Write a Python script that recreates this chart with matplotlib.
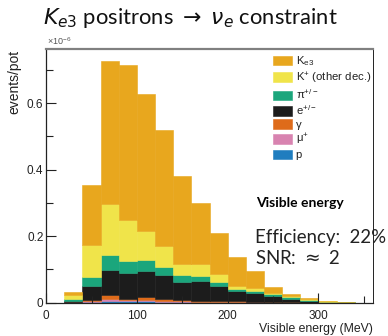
import numpy as np
import matplotlib
matplotlib.use("Agg")
from matplotlib import pyplot as plt
from matplotlib.ticker import MultipleLocator, FixedLocator, FixedFormatter

plt.rcParams['font.family'] = ['Liberation Sans', 'DejaVu Sans']
plt.rcParams['mathtext.fontset'] = 'custom'
plt.rcParams['mathtext.rm'] = 'Liberation Sans'
plt.rcParams['mathtext.it'] = 'Liberation Sans:italic'

# bins of visible energy (MeV), 20 MeV wide
edges = np.arange(0, 361, 20)

# contributions per bin, units of 1e-6 events/pot (stack order bottom -> top)
p_hits = [0, .001, .002, .005, .004, .005, .003, .002, .001, .001, .001, .0005, 0, 0, 0, 0, 0, 0]
mu_plus = [0, .001, .003, .005, .003, .004, .003, .002, .002, .001, .001, .001, .0005, 0, 0, 0, 0, 0]
gamma = [0, .001, .003, .013, .005, .009, .005, .005, .003, .004, .003, .002, .001, .001, 0, 0, 0, 0]
e_pm = [0, .003, .041, .075, .078, .076, .071, .052, .058, .043, .031, .0265, .0185, .009, .004, .001, .0005, 0]
pi_pm = [0, .004, .028, .046, .036, .034, .025, .022, .017, .012, .005, .006, .005, .006, .004, .002, .0015, 0]
k_other = [0, .013, .098, .154, .122, .087, .063, .035, .035, .024, .009, .009, .005, .004, .003, .001, 0, 0]
k_e3 = [0, .009, .178, .428, .467, .414, .350, .263, .183, .125, .088, .050, .018, .006, .002, .001, 0, 0]

series = [p_hits, mu_plus, gamma, e_pm, pi_pm, k_other, k_e3]
labels = ['p', '\u03bc$^{+}$', '\u03b3', 'e$^{+/-}$', '\u03c0$^{+/-}$',
          'K$^{+}$ (other dec.)', r'K$_{\mathrm{e3}}$']
colors = ['#1f7dbf', '#d883b0', '#de6b1a', '#1c1c1c', '#1ba67c', '#f0e44a', '#e8a71e']

fig = plt.figure(figsize=(3.88, 3.36), dpi=100)
ax = fig.add_axes([0.119, 0.099, 0.842, 0.754])

bottom = np.zeros(len(edges) - 1)
handles = []
for vals, lab, col in zip(series, labels, colors):
    vals = np.array(vals)
    b = ax.bar(edges[:-1], vals, width=20, bottom=bottom, align='edge',
               color=col, edgecolor=col, linewidth=0.4, label=lab)
    handles.append(b)
    bottom = bottom + vals

ax.set_xlim(0, 360)
ax.set_ylim(0, 0.762)

ax.xaxis.set_major_locator(MultipleLocator(100))
ax.xaxis.set_minor_locator(MultipleLocator(50))
ax.yaxis.set_major_locator(FixedLocator([0, 0.2, 0.4, 0.6]))
ax.yaxis.set_major_formatter(FixedFormatter(['0', '0.2', '0.4', '0.6']))
ax.yaxis.set_minor_locator(MultipleLocator(0.1))
ax.tick_params(which='both', direction='in', colors='#222222', labelsize=8.5,
               top=False, right=False)
ax.tick_params(which='major', length=7, width=0.8)
ax.tick_params(which='minor', length=5, width=0.8)
ax.tick_params(axis='x', pad=5)
ax.tick_params(axis='y', pad=2)

for s in ['left', 'bottom']:
    ax.spines[s].set_color('#222222')
    ax.spines[s].set_linewidth(0.9)
ax.spines['top'].set_color('#808080')
ax.spines['top'].set_linewidth(1.6)
ax.spines['right'].set_color('#222222')
ax.spines['right'].set_linewidth(0.7)

ax.set_xlabel('Visible energy (MeV)', fontsize=8.8, color='#222222', loc='right',
              labelpad=1)
fig.text(0.036, 0.851, 'events/pot', rotation=90, ha='center', va='top',
         fontsize=10, color='#222222')
fig.text(0.121, 0.878, r'$\times$10$^{-6}$', fontsize=6.5, color='#555555',
         ha='left', va='center')

leg = ax.legend(handles[::-1], labels[::-1], loc='upper left',
                bbox_to_anchor=(0.695, 0.98), frameon=False, fontsize=8.2,
                handlelength=1.67, handleheight=0.96, labelspacing=0.18,
                handletextpad=0.3, borderpad=0, borderaxespad=0)
for t in leg.get_texts():
    t.set_color('#222222')

ax.text(0.642, 0.393, 'Visible energy', transform=ax.transAxes, fontsize=10,
        fontweight='bold', family=['Lato', 'DejaVu Sans'], va='center', ha='left')
ax.text(0.639, 0.259, 'Efficiency:  22%', transform=ax.transAxes, fontsize=13.4,
        family=['Lato', 'DejaVu Sans'], va='center', ha='left', color='#222222')
ax.text(0.639, 0.176, r'SNR: $\approx$ 2', transform=ax.transAxes, fontsize=13.4,
        family=['Lato', 'DejaVu Sans'], math_fontfamily='dejavusans',
        va='center', ha='left', color='#222222')

fig.text(0.49, 0.946, r'$K_{e3}$ positrons $\rightarrow$ $\nu_e$ constraint',
         fontsize=15.8, family=['Lato', 'DejaVu Sans'], math_fontfamily='dejavusans',
         ha='center', va='center', color='#111111')

fig.savefig('out.png', dpi=100)
